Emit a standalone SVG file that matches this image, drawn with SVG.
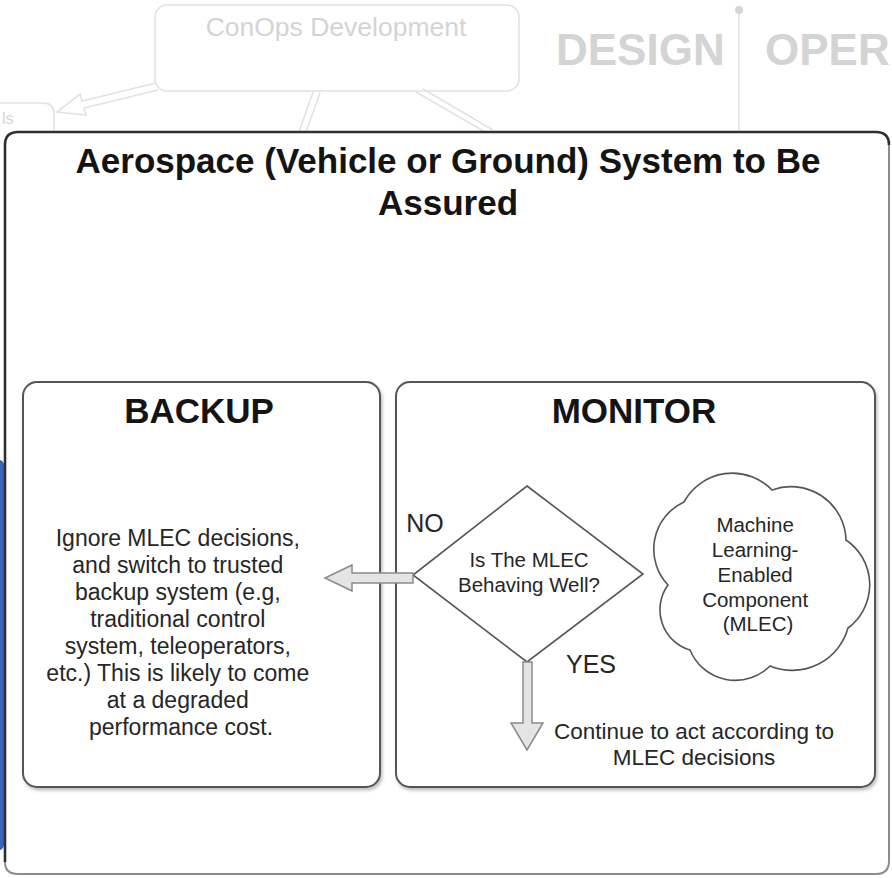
<svg xmlns="http://www.w3.org/2000/svg" width="892" height="878" viewBox="0 0 892 878">
  <style>
    .faint-line { fill: none; stroke: #e2e2e2; stroke-width: 1.6; }
    .faint-text { font-family: "Liberation Sans", Arial, sans-serif; fill: #d4d4d4; }
    .title { font-family: "Liberation Sans", Arial, sans-serif; font-weight: bold; fill: #141414; text-anchor: middle; }
    .body { font-family: "Liberation Sans", Arial, sans-serif; fill: #262626; text-anchor: middle; }
    .panel { fill: #ffffff; stroke: #555555; stroke-width: 2; }
    .shape { fill: #ffffff; stroke: #555555; stroke-width: 1.6; }
    .hollow { fill: #e4e4e4; stroke: #8a8a8a; stroke-width: 1.5; stroke-linejoin: miter; }
  </style>
  <defs>
    <filter id="shadow" x="-5%" y="-5%" width="112%" height="112%">
      <feDropShadow dx="1.5" dy="2.5" stdDeviation="1.5" flood-color="#000000" flood-opacity="0.25"/>
    </filter>
  </defs>

  <rect width="892" height="878" fill="#ffffff"/>

  <!-- background layer of the wider lifecycle chart -->
  <g id="background">
    <rect class="faint-line" x="155" y="5" width="364" height="86" rx="12"/>
    <text class="faint-text" x="336" y="36" font-size="26.5" text-anchor="middle">ConOps Development</text>
    <text class="faint-text" x="556" y="65" font-size="44" font-weight="bold" fill="#dcdcdc">DESIGN</text>
    <text class="faint-text" x="765" y="65" font-size="44" font-weight="bold" fill="#dcdcdc">OPER</text>
    <line class="faint-line" x1="739" y1="10" x2="739" y2="132"/>
    <circle cx="739" cy="10" r="4" fill="#d6d6d6"/>
    <path class="faint-line" d="M -10 103 L 43 103 Q 54 103 54 114 L 54 132"/>
    <text class="faint-text" x="2" y="124" font-size="16">ls</text>
    <path class="faint-line" d="M 156 83 L 82 101 L 80 94 L 57 112 L 86 115 L 84 108 L 158 90"/>
    <path class="faint-line" d="M 313 92 L 299 132 M 320 93 L 306 132"/>
    <path class="faint-line" d="M 416 92 L 485 132 M 423 89 L 493 130"/>
  </g>

  <!-- blue tab at the left edge -->
  <rect x="-10" y="460" width="14" height="390" rx="5" fill="#3b64b9"/>

  <!-- outer system frame -->
  <g id="system">
    <rect x="5" y="132" width="884" height="742" rx="13" fill="#ffffff"/>
    <path d="M 5 862 L 5 145 Q 5 132 18 132 L 876 132 Q 889 132 889 145" fill="none" stroke="#2f2f2f" stroke-width="2.6"/>
    <path d="M 889 145 L 889 861 Q 889 874 876 874 L 18 874 Q 5 874 5 862" fill="none" stroke="#8c8c8c" stroke-width="2"/>
    <text class="title" x="448" y="173" font-size="35">Aerospace (Vehicle or Ground) System to Be</text>
    <text class="title" x="448" y="215" font-size="35">Assured</text>
  </g>

  <!-- backup panel -->
  <g id="backup">
    <rect class="panel" x="23" y="382" width="357" height="405" rx="14" filter="url(#shadow)"/>
    <text class="title" x="199" y="423" font-size="35">BACKUP</text>
    <text class="body" x="181" font-size="23">
      <tspan x="181" y="546">Ignore MLEC decisions,</tspan>
      <tspan x="181" y="573">and switch to trusted</tspan>
      <tspan x="181" y="600">backup system (e.g,</tspan>
      <tspan x="181" y="627">traditional control</tspan>
      <tspan x="181" y="654">system, teleoperators,</tspan>
      <tspan x="181" y="681">etc.) This is likely to come</tspan>
      <tspan x="181" y="708">at a degraded</tspan>
      <tspan x="181" y="735">performance cost.</tspan>
    </text>
  </g>

  <!-- monitor panel -->
  <g id="monitor">
    <rect class="panel" x="396" y="382" width="479" height="405" rx="14" filter="url(#shadow)"/>
    <text class="title" x="634" y="423" font-size="35">MONITOR</text>
  </g>

  <!-- decision diamond -->
  <g id="decision">
    <polygon class="shape" points="527,486 643,574 527,662 413,575"/>
    <text class="body" x="529" y="567" font-size="20.5">Is The MLEC</text>
    <text class="body" x="529" y="592" font-size="20.5">Behaving Well?</text>
  </g>

  <!-- machine learning enabled component -->
  <g id="mlec">
    <path class="shape" d="M 668 585 A 52 52 0 0 1 684 502 A 55 55 0 0 1 772 490 A 55 55 0 0 1 846 540 A 54 54 0 0 1 848 628 A 58 58 0 0 1 770 666 A 49 49 0 0 1 690 650 A 42 42 0 0 1 668 585 Z"/>
    <text class="body" x="758" font-size="20.5">
      <tspan x="758" y="532">Machine</tspan>
      <tspan x="758" y="557">Learning-</tspan>
      <tspan x="758" y="582">Enabled</tspan>
      <tspan x="758" y="607">Component</tspan>
      <tspan x="758" y="631">(MLEC)</tspan>
    </text>
  </g>

  <!-- continue outcome -->
  <g id="continue">
    <text class="body" x="694" y="739" font-size="22.5">Continue to act according to</text>
    <text class="body" x="694" y="765" font-size="22.5">MLEC decisions</text>
  </g>

  <!-- connectors -->
  <g id="connectors">
    <polygon class="hollow" points="413,573 352,573 352,565 325,578 352,591 352,583 413,583"/>
    <polygon class="hollow" points="523,662 523,723 511,723 527,750 543,723 532,723 532,662"/>
    <text class="body" x="425" y="532" font-size="25">NO</text>
    <text class="body" x="591" y="673" font-size="25">YES</text>
  </g>
</svg>
